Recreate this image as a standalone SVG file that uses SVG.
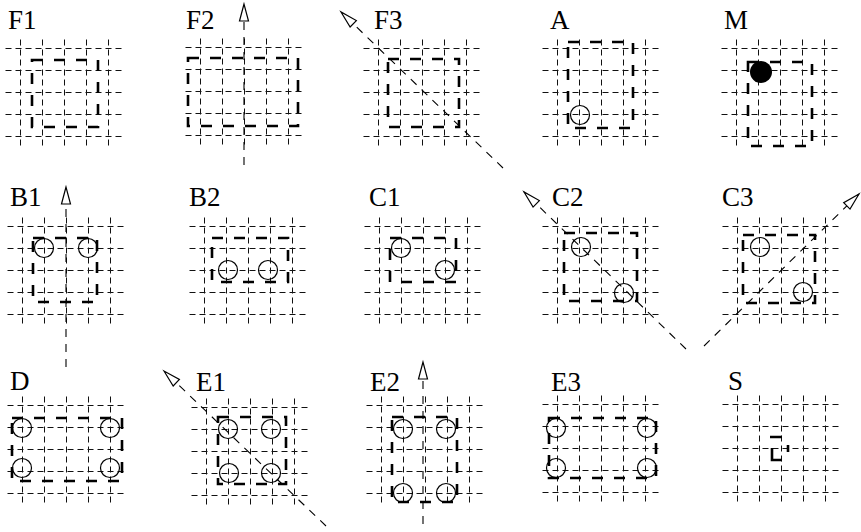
<svg xmlns="http://www.w3.org/2000/svg" xmlns:xlink="http://www.w3.org/1999/xlink" width="861" height="532" viewBox="0 0 861 532">
<style>
.g line{stroke:#111;stroke-width:1;stroke-dasharray:6 4}
.lbl{font-family:"Liberation Serif","Times New Roman",serif;font-size:27px;fill:#000}
.box{fill:none;stroke:#000;stroke-width:2.6;stroke-dasharray:11 11}
.seg{stroke:#000;stroke-width:2.6;fill:none}
.c{fill:none;stroke:#000;stroke-width:1.2}
.ax{stroke:#000;stroke-width:1.1;stroke-dasharray:8 7;fill:none}
</style>
<defs>
<g id="grid" class="g" transform="translate(0.5,0.5)">
<line x1="0" y1="-9" x2="0" y2="98"/><line x1="22" y1="-9" x2="22" y2="98"/><line x1="44" y1="-9" x2="44" y2="98"/><line x1="66" y1="-9" x2="66" y2="98"/><line x1="88" y1="-9" x2="88" y2="98"/>
<line x1="-15" y1="0" x2="102" y2="0"/><line x1="-15" y1="22" x2="102" y2="22"/><line x1="-15" y1="44" x2="102" y2="44"/><line x1="-15" y1="66" x2="102" y2="66"/><line x1="-15" y1="88" x2="102" y2="88"/>
</g>
<marker id="ah" markerUnits="userSpaceOnUse" markerWidth="24" markerHeight="14" viewBox="-20 -7 24 14" refX="0" refY="0" orient="auto" overflow="visible">
<path d="M0,0 L-17,-4.5 L-17,4.5 Z" fill="#fff" stroke="#000" stroke-width="1.2" stroke-dasharray="none"/>
</marker>
</defs>

<g id="F1">
<use xlink:href="#grid" transform="translate(20,48)"/>
<rect class="box" x="32" y="60" width="66" height="67"/>
<text class="lbl" x="8" y="29">F1</text>
</g>
<g id="F2">
<use xlink:href="#grid" transform="translate(200,47)"/>
<rect class="box" x="188" y="58" width="110" height="68"/>
<text class="lbl" x="186" y="29">F2</text>
</g>
<g id="F3">
<use xlink:href="#grid" transform="translate(378,48)"/>
<rect class="box" x="388" y="59" width="71" height="68"/>
<text class="lbl" x="374" y="29">F3</text>
</g>
<g id="A">
<use xlink:href="#grid" transform="translate(557,48)"/>
<rect class="box" x="568" y="42" width="65" height="86"/>
<circle class="c" cx="580" cy="115" r="9.5"/>
<text class="lbl" x="550" y="29">A</text>
</g>
<g id="M">
<use xlink:href="#grid" transform="translate(736,48)"/>
<rect class="box" x="748" y="62" width="64" height="84"/>
<circle cx="761" cy="72" r="11" fill="#000"/>
<text class="lbl" x="724" y="29">M</text>
</g>

<g id="B1">
<use xlink:href="#grid" transform="translate(22,226)"/>
<rect class="box" x="33" y="238" width="64" height="64"/>
<circle class="c" cx="44" cy="248" r="9.5"/>
<circle class="c" cx="88" cy="248" r="9.5"/>
<text class="lbl" x="10" y="206">B1</text>
</g>
<g id="B2">
<use xlink:href="#grid" transform="translate(204,226)"/>
<rect class="box" x="212" y="238" width="76" height="44"/>
<circle class="c" cx="228" cy="270" r="9.5"/>
<circle class="c" cx="268" cy="270" r="9.5"/>
<text class="lbl" x="189" y="206">B2</text>
</g>
<g id="C1">
<use xlink:href="#grid" transform="translate(379,226)"/>
<rect class="box" x="390" y="238" width="66" height="44"/>
<circle class="c" cx="401" cy="248" r="9.5"/>
<circle class="c" cx="445" cy="270" r="9.5"/>
<text class="lbl" x="369" y="206">C1</text>
</g>
<g id="C2">
<use xlink:href="#grid" transform="translate(557,226)"/>
<rect class="box" x="564" y="233" width="73" height="68"/>
<circle class="c" cx="581" cy="247" r="9.5"/>
<circle class="c" cx="624" cy="293" r="9.5"/>
<text class="lbl" x="552" y="206">C2</text>
</g>
<g id="C3">
<use xlink:href="#grid" transform="translate(737,226)"/>
<rect class="box" x="743" y="235" width="72" height="68"/>
<circle class="c" cx="760" cy="247" r="9.5"/>
<circle class="c" cx="803" cy="292" r="9.5"/>
<text class="lbl" x="722" y="206">C3</text>
</g>

<g id="D">
<use xlink:href="#grid" transform="translate(22,405)"/>
<rect class="box" x="12" y="418" width="110" height="63"/>
<circle class="c" cx="22" cy="428" r="9.5"/>
<circle class="c" cx="110" cy="428" r="9.5"/>
<circle class="c" cx="22" cy="468" r="9.5"/>
<circle class="c" cx="110" cy="468" r="9.5"/>
<text class="lbl" x="10" y="390">D</text>
</g>
<g id="E1">
<use xlink:href="#grid" transform="translate(206,407)"/>
<rect class="box" x="218" y="417" width="68" height="67"/>
<circle class="c" cx="228" cy="429" r="9.5"/>
<circle class="c" cx="271" cy="429" r="9.5"/>
<circle class="c" cx="229" cy="473" r="9.5"/>
<circle class="c" cx="271" cy="473" r="9.5"/>
<text class="lbl" x="196" y="391">E1</text>
</g>
<g id="E2">
<use xlink:href="#grid" transform="translate(381,405)"/>
<rect class="box" x="392" y="417" width="65" height="85"/>
<circle class="c" cx="403" cy="429" r="9.5"/>
<circle class="c" cx="446" cy="429" r="9.5"/>
<circle class="c" cx="403" cy="493" r="9.5"/>
<circle class="c" cx="446" cy="493" r="9.5"/>
<text class="lbl" x="370" y="391">E2</text>
</g>
<g id="E3">
<use xlink:href="#grid" transform="translate(557,404)"/>
<rect class="box" x="549" y="418" width="107" height="60"/>
<circle class="c" cx="556" cy="428" r="9.5"/>
<circle class="c" cx="647" cy="428" r="9.5"/>
<circle class="c" cx="556" cy="468" r="9.5"/>
<circle class="c" cx="647" cy="468" r="9.5"/>
<text class="lbl" x="551" y="391">E3</text>
</g>
<g id="S">
<use xlink:href="#grid" transform="translate(737,404)"/>
<path class="seg" d="M770,437 H782 M772,448 V460 H782 M788,445 V452"/>
<text class="lbl" x="728" y="390">S</text>
</g>

<g id="connectors">
<line class="ax" x1="244" y1="165" x2="244" y2="4" marker-end="url(#ah)"/>
<line class="ax" x1="503" y1="168" x2="341" y2="12" marker-end="url(#ah)"/>
<line class="ax" x1="66" y1="367" x2="66" y2="187" marker-end="url(#ah)"/>
<line class="ax" x1="686" y1="349" x2="524" y2="192" marker-end="url(#ah)"/>
<line class="ax" x1="704" y1="346" x2="859" y2="194" marker-end="url(#ah)"/>
<line class="ax" x1="326" y1="526" x2="164" y2="371" marker-end="url(#ah)"/>
<line class="ax" x1="423" y1="524" x2="423" y2="362" marker-end="url(#ah)"/>
</g>
</svg>
